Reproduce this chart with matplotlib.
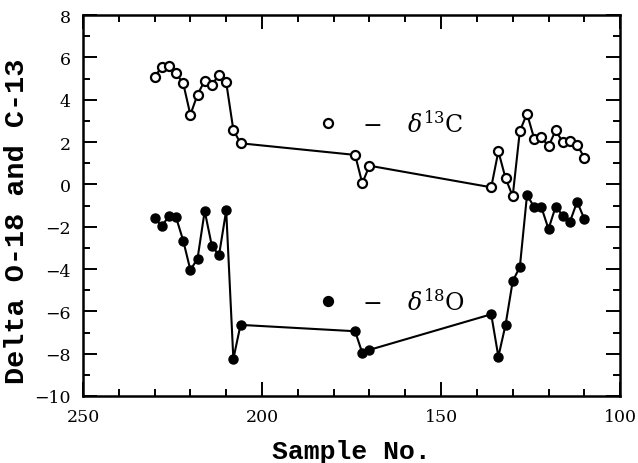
import matplotlib
matplotlib.use("Agg")
import matplotlib.pyplot as plt
from matplotlib.ticker import MultipleLocator

# sample numbers (same for both isotopes)
samples = [230, 228, 226, 224, 222, 220, 218, 216, 214, 212, 210, 208, 206,
           174, 172, 170,
           136, 134, 132, 130, 128, 126, 124, 122, 120, 118, 116, 114, 112, 110]

d13c = [5.09, 5.53, 5.61, 5.24, 4.77, 3.29, 4.24, 4.90, 4.71, 5.17, 4.82, 2.57, 1.94,
        1.39, 0.05, 0.88,
        -0.14, 1.56, 0.29, -0.56, 2.52, 3.34, 2.16, 2.22, 1.80, 2.55, 1.99, 2.06, 1.87, 1.26]

d18o = [-1.60, -1.97, -1.51, -1.56, -2.66, -4.05, -3.51, -1.26, -2.91, -3.35, -1.23, -8.25, -6.64,
        -6.94, -7.97, -7.82,
        -6.14, -8.14, -6.64, -4.58, -3.90, -0.50, -1.08, -1.08, -2.11, -1.05, -1.48, -1.76, -0.82, -1.64]

x_ticks = [250, 200, 150, 100]
y_ticks = [-10, -8, -6, -4, -2, 0, 2, 4, 6, 8]

plt.rcParams["mathtext.fontset"] = "dejavuserif"

fig = plt.figure(figsize=(6.38, 4.64), dpi=100)
ax = fig.add_axes([0.130, 0.1444, 0.842, 0.8211])

ax.plot(samples, d13c, color="black", lw=1.5, marker="o", ms=6.5,
        mfc="white", mec="black", mew=1.6, zorder=3)
ax.plot(samples, d18o, color="black", lw=1.5, marker="o", ms=6.5,
        mfc="black", mec="black", zorder=3)

ax.set_xlim(250, 100)
ax.set_ylim(-10, 8)
ax.set_xticks(x_ticks)
ax.set_yticks(y_ticks)
ax.xaxis.set_minor_locator(MultipleLocator(10))
ax.yaxis.set_minor_locator(MultipleLocator(1))
ax.tick_params(which="both", direction="in", top=True, right=True, width=1.4)
ax.tick_params(which="major", length=10, pad=9)
ax.tick_params(which="minor", length=5)
for s in ax.spines.values():
    s.set_linewidth(1.8)

ax.set_yticklabels([str(v).replace("-", "\u2212") for v in y_ticks])
for lab in ax.get_xticklabels() + ax.get_yticklabels():
    lab.set_family("DejaVu Serif")
    lab.set_fontsize(12.5)

ax.set_xlabel("Sample No.", family="Liberation Mono", fontweight="bold",
              fontsize=19, labelpad=10)
ax.set_ylabel("Delta O-18 and C-13", family="Liberation Mono", fontweight="bold",
              fontsize=20.5)
ax.yaxis.set_label_coords(-0.099, 0.462)

# key drawn as text next to the curves
key = [("white", 0.7165, 0.693, "13", "C"), ("black", 0.249, 0.2265, "18", "O")]
for fc, ym, yt, iso, el in key:
    ax.plot([0.456], [ym], transform=ax.transAxes, marker="o", ms=6.5,
            mfc=fc, mec="black", mew=1.6, ls="none", clip_on=False)
    ax.text(0.538, yt, "\u2212", transform=ax.transAxes, ha="center", va="baseline",
            family="DejaVu Serif", fontsize=17)
    ax.text(0.603, yt, r"$\delta^{" + iso + r"}$" + el, transform=ax.transAxes,
            ha="left", va="baseline", family="DejaVu Serif", fontsize=17)

fig.savefig("out.png", dpi=100)
